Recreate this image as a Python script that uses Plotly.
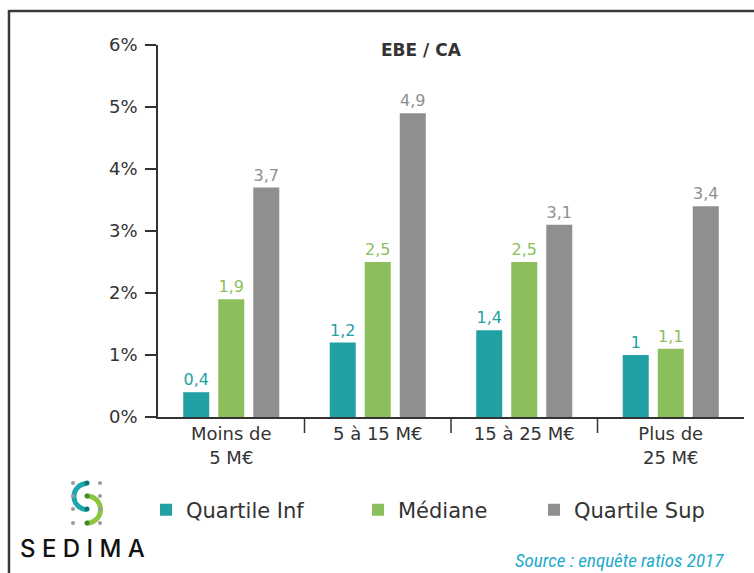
import numpy as np
import plotly.graph_objects as go

# ---- data ----
categories = ["Moins de<br>5 M€", "5 à 15 M€", "15 à 25 M€", "Plus de<br>25 M€"]
series_names = ["Quartile Inf", "Médiane", "Quartile Sup"]
quartile_inf = [0.4, 1.2, 1.4, 1.0]
mediane = [1.9, 2.5, 2.5, 1.1]
quartile_sup = [3.7, 4.9, 3.1, 3.4]
y_ticks = [0, 1, 2, 3, 4, 5, 6]
y_tick_labels = [f"{v}%" for v in y_ticks]

colors = ["#22a1a5", "#8bbf5b", "#8e8f8f"]
FONT = "'DejaVu Sans', sans-serif"
W, H = 754, 573
ML, MR, MT, MB = 158, 10, 45, 156
PW, PH = W - ML - MR, H - MT - MB


def px(x):
    return (x - ML) / PW


def py(y):
    return (H - MB - y) / PH


def fmt(v):
    return f"{v:g}".replace(".", ",")


fig = go.Figure()
legend_ids = ["legend", "legend2", "legend3"]
for name, vals, col, lg in zip(series_names, [quartile_inf, mediane, quartile_sup], colors, legend_ids):
    fig.add_trace(go.Bar(
        name=name, x=categories, y=vals,
        marker=dict(color=col, line=dict(width=0)),
        text=[fmt(v) for v in vals], textposition="outside",
        textfont=dict(family=FONT, size=16, color=col),
        cliponaxis=False, legend=lg, showlegend=True,
    ))

shapes = []
# category separators below the axis
for i in range(len(categories) - 1):
    shapes.append(dict(type="line", xref="x", yref="paper", x0=i + 0.5, x1=i + 0.5,
                       y0=0, y1=py(433), line=dict(color="#333", width=1.5)))
# frame
shapes.append(dict(type="line", xref="paper", yref="paper", x0=px(9), x1=px(756),
                   y0=py(11), y1=py(11), line=dict(color="#3a3a3a", width=2.5)))
shapes.append(dict(type="line", xref="paper", yref="paper", x0=px(9), x1=px(9),
                   y0=py(10), y1=py(575), line=dict(color="#3a3a3a", width=2.5)))


# logo: two interlocking arcs on a dot grid
def arc_path(cx, cy, r, t0, t1, n=40):
    t = np.radians(np.linspace(t0, t1, n))
    xs = cx + r * np.cos(t)
    ys = cy + r * np.sin(t)
    return "M" + " L".join(f"{px(a):.5f},{py(b):.5f}" for a, b in zip(xs, ys))


shapes.append(dict(type="path", xref="paper", yref="paper",
                   path=arc_path(87, 496.5, 13, 90, 270), line=dict(color="#1fa6ad", width=5)))
shapes.append(dict(type="path", xref="paper", yref="paper",
                   path=arc_path(87, 509.5, 13.5, -90, 90), line=dict(color="#8cc63f", width=5)))
for gx in (73, 100):
    for gy in (483, 496, 509, 523):
        shapes.append(dict(type="circle", xref="paper", yref="paper",
                           x0=px(gx - 2), x1=px(gx + 2), y0=py(gy - 2), y1=py(gy + 2),
                           fillcolor="#9a9a9a", line=dict(width=0)))
for gy, c in ((483, "#0d7478"), (509, "#0d7478"), (496, "#3f8a2a"), (523, "#3f8a2a")):
    shapes.append(dict(type="circle", xref="paper", yref="paper",
                       x0=px(87 - 2.5), x1=px(87 + 2.5), y0=py(gy - 2.5), y1=py(gy + 2.5),
                       fillcolor=c, line=dict(width=0)))

annotations = [
    dict(text="EBE / CA", x=px(421), y=py(50), xref="paper", yref="paper",
         xanchor="center", yanchor="middle", showarrow=False,
         font=dict(family=FONT, size=17, color="#333", weight="bold")),
    dict(text="S E D I M A", x=px(82), y=py(548), xref="paper", yref="paper",
         xanchor="center", yanchor="middle", showarrow=False,
         font=dict(family="Inter, 'Noto Sans', sans-serif", size=24, color="#111", weight=500)),
    dict(text="<i>Source : enquête ratios 2017</i>", x=px(726), y=py(560), xref="paper", yref="paper",
         xanchor="right", yanchor="middle", showarrow=False,
         font=dict(family="'Roboto Condensed', Roboto, sans-serif", size=19, color="#1eaacc")),
]

legend_style = dict(orientation="h", xanchor="left", yanchor="middle", y=py(510),
                    font=dict(family=FONT, size=21, color="#333"), bgcolor="rgba(0,0,0,0)")

fig.update_layout(
    width=W, height=H, template="none", showlegend=True,
    margin=dict(l=ML, r=MR, t=MT, b=MB, pad=0),
    paper_bgcolor="white", plot_bgcolor="white",
    barmode="group", bargap=0.283, bargroupgap=0.257,
    font=dict(family=FONT, color="#333"),
    shapes=shapes, annotations=annotations,
    legend=dict(x=px(146), **legend_style),
    legend2=dict(x=px(358), **legend_style),
    legend3=dict(x=px(534), **legend_style),
    xaxis=dict(showline=True, linecolor="#333", linewidth=1.5, ticks="", showgrid=False,
               tickfont=dict(family=FONT, size=18, color="#333")),
    yaxis=dict(range=[0, 6], tickvals=y_ticks, ticktext=y_tick_labels, showline=True,
               linecolor="#333", linewidth=1.5, ticks="outside", ticklen=11, tickwidth=1.5,
               tickcolor="#333", showgrid=False, zeroline=False, ticklabelstandoff=4,
               tickfont=dict(family=FONT, size=18, color="#333")),
)

fig.write_html("out.html")
